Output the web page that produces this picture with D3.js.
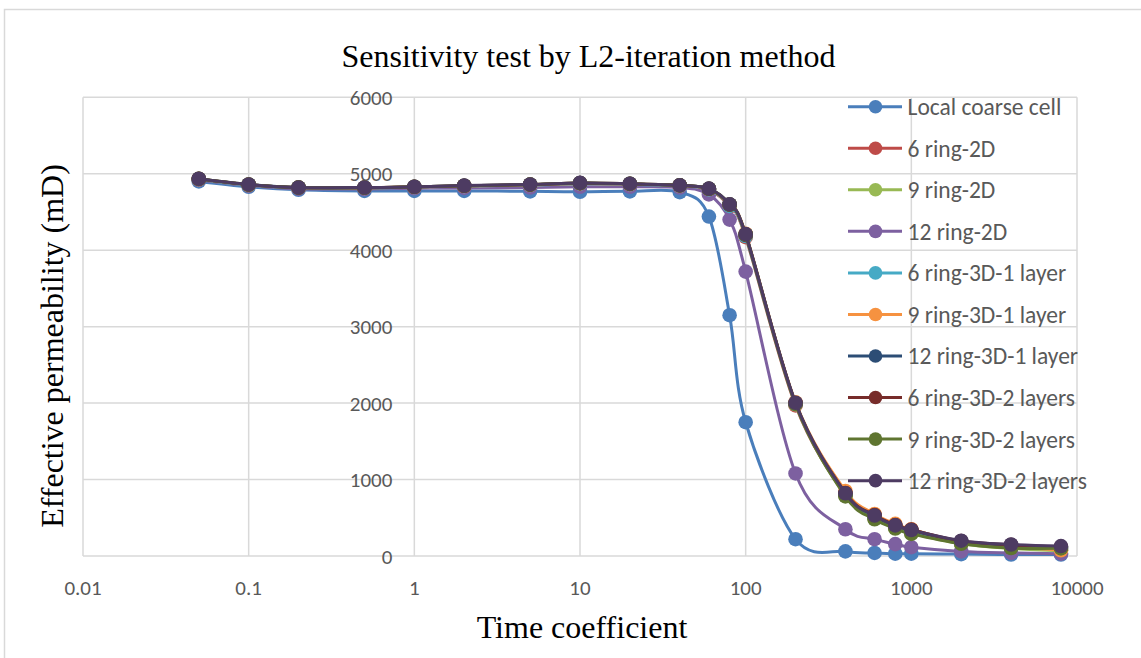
<!DOCTYPE html>
<html>
<head>
<meta charset="utf-8">
<script src="https://cdn.jsdelivr.net/npm/d3@7"></script>
<style>
  html, body { margin: 0; padding: 0; background: #fff; }
  svg { display: block; }
  .tick-label { font-family: Carlito, Lato, "Open Sans", sans-serif; font-size: 21px; fill: #595959; }
  .legend-label { font-family: Carlito, Lato, "Open Sans", sans-serif; font-size: 23.5px; fill: #595959; }
  .serif { font-family: "Liberation Serif", "Times New Roman", serif; font-size: 32px; fill: #000; }
</style>
</head>
<body>
<svg id="chart" width="1141" height="658"></svg>
<script>
// Time coefficients sampled in the sensitivity test
const timeCoeff = [0.05, 0.1, 0.2, 0.5, 1, 2, 5, 10, 20, 40, 60, 80, 100, 200, 400, 600, 800, 1000, 2000, 4000, 8000];

// Effective permeability (mD) for each configuration
const localCoarseCell  = [4900, 4830, 4790, 4775, 4775, 4775, 4770, 4765, 4770, 4760, 4440, 3150, 1750, 220, 60, 40, 30, 30, 25, 20, 20];
const ring6_2D         = [4925, 4850, 4815, 4812, 4822, 4835, 4850, 4868, 4860, 4840, 4790, 4570, 4170, 1970, 800, 500, 380, 310, 170, 110, 80];
const ring9_2D         = [4930, 4855, 4818, 4815, 4826, 4840, 4855, 4874, 4865, 4845, 4798, 4585, 4190, 1985, 790, 490, 370, 300, 160, 100, 70];
const ring12_2D        = [4920, 4845, 4805, 4800, 4810, 4815, 4820, 4830, 4830, 4820, 4730, 4400, 3720, 1080, 350, 220, 155, 115, 60, 40, 30];
const ring6_3D_1layer  = [4928, 4852, 4816, 4813, 4824, 4838, 4852, 4870, 4862, 4842, 4795, 4580, 4185, 1990, 810, 510, 390, 320, 180, 120, 90];
const ring9_3D_1layer  = [4930, 4855, 4818, 4815, 4826, 4840, 4855, 4873, 4864, 4845, 4800, 4595, 4215, 2010, 850, 550, 420, 350, 185, 125, 75];
const ring12_3D_1layer = [4932, 4857, 4819, 4817, 4828, 4843, 4858, 4877, 4867, 4848, 4803, 4598, 4205, 2000, 815, 525, 395, 335, 190, 140, 110];
const ring6_3D_2layer  = [4933, 4858, 4819, 4818, 4829, 4843, 4858, 4878, 4868, 4849, 4803, 4597, 4200, 1995, 825, 535, 405, 345, 195, 145, 120];
const ring9_3D_2layer  = [4934, 4859, 4820, 4819, 4829, 4844, 4859, 4879, 4869, 4849, 4804, 4598, 4205, 1990, 780, 480, 360, 290, 160, 105, 100];
const ring12_3D_2layer = [4935, 4860, 4820, 4820, 4830, 4845, 4860, 4880, 4870, 4850, 4805, 4600, 4210, 2005, 820, 530, 400, 340, 200, 150, 130];

const seriesNames = [
  "Local coarse cell", "6 ring-2D", "9 ring-2D", "12 ring-2D",
  "6 ring-3D-1 layer", "9 ring-3D-1 layer", "12 ring-3D-1 layer",
  "6 ring-3D-2 layers", "9 ring-3D-2 layers", "12 ring-3D-2 layers"
];
const seriesValues = [
  localCoarseCell, ring6_2D, ring9_2D, ring12_2D,
  ring6_3D_1layer, ring9_3D_1layer, ring12_3D_1layer,
  ring6_3D_2layer, ring9_3D_2layer, ring12_3D_2layer
];
const seriesColors = [
  "#4a7ebb", "#be4b48", "#98b954", "#7d60a0",
  "#46aac5", "#f69240", "#2c4d75", "#772c2a", "#5f7530", "#4d3b62"
];

// Axis ticks
const xTicks = [0.01, 0.1, 1, 10, 100, 1000, 10000];
const xTickLabels = ["0.01", "0.1", "1", "10", "100", "1000", "10000"];
const yTicks = [0, 1000, 2000, 3000, 4000, 5000, 6000];

const svg = d3.select("#chart");

// Outer chart frame
svg.append("rect")
  .attr("x", 4.5).attr("y", 9.5)
  .attr("width", 1150).attr("height", 670)
  .attr("fill", "#fff")
  .attr("stroke", "#d9d9d9").attr("stroke-width", 1.5);

const x = d3.scaleLog().domain([0.01, 10000]).range([83, 1077]);
const y = d3.scaleLinear().domain([0, 6000]).range([556, 97.3]);

// Gridlines
const grid = svg.append("g").attr("stroke", "#d9d9d9").attr("stroke-width", 1.5);
grid.selectAll("line.v").data(xTicks).join("line")
  .attr("class", "v")
  .attr("x1", d => x(d)).attr("x2", d => x(d))
  .attr("y1", y(6000)).attr("y2", y(0));
grid.selectAll("line.h").data(yTicks).join("line")
  .attr("class", "h")
  .attr("x1", x(0.01)).attr("x2", x(10000))
  .attr("y1", d => y(d)).attr("y2", d => y(d));

// Value axis labels sit beside the axis crossing at 1
svg.append("g").selectAll("text").data(yTicks).join("text")
  .attr("class", "tick-label")
  .attr("x", x(1) - 22)
  .attr("y", d => y(d))
  .attr("dy", "0.36em")
  .attr("text-anchor", "end")
  .text(d => d);

// Category axis labels at the bottom
svg.append("g").selectAll("text").data(xTicks).join("text")
  .attr("class", "tick-label")
  .attr("x", d => x(d))
  .attr("y", 587)
  .attr("dy", "0.36em")
  .attr("text-anchor", "middle")
  .text((d, i) => xTickLabels[i]);

// Series: smoothed lines with round markers
const line = d3.line()
  .x((d, i) => x(timeCoeff[i]))
  .y(d => y(d))
  .curve(d3.curveCardinal.tension(0));

seriesValues.forEach((vals, s) => {
  const g = svg.append("g");
  g.append("path")
    .attr("d", line(vals))
    .attr("fill", "none")
    .attr("stroke", seriesColors[s])
    .attr("stroke-width", 3)
    .attr("stroke-linejoin", "round")
    .attr("stroke-linecap", "round");
  g.selectAll("circle").data(vals).join("circle")
    .attr("cx", (d, i) => x(timeCoeff[i]))
    .attr("cy", d => y(d))
    .attr("r", 7.3)
    .attr("fill", seriesColors[s]);
});

// Legend
const legend = svg.append("g");
seriesNames.forEach((name, i) => {
  const ly = 106.7 + i * 41.55;
  legend.append("line")
    .attr("x1", 848).attr("x2", 902)
    .attr("y1", ly).attr("y2", ly)
    .attr("stroke", seriesColors[i]).attr("stroke-width", 3);
  legend.append("circle")
    .attr("cx", 875.5).attr("cy", ly).attr("r", 6.8)
    .attr("fill", seriesColors[i]);
  legend.append("text")
    .attr("class", "legend-label")
    .attr("x", 907.5).attr("y", ly)
    .attr("dy", "0.36em")
    .text(name);
});

// Titles
svg.append("text").attr("class", "serif")
  .attr("x", 588.5).attr("y", 67)
  .attr("text-anchor", "middle")
  .text("Sensitivity test by L2-iteration method");

svg.append("text").attr("class", "serif")
  .attr("x", 582).attr("y", 638)
  .attr("text-anchor", "middle")
  .text("Time coefficient");

svg.append("text").attr("class", "serif")
  .attr("transform", "translate(63,346) rotate(-90)")
  .attr("text-anchor", "middle")
  .text("Effective permeability (mD)");
</script>
</body>
</html>
